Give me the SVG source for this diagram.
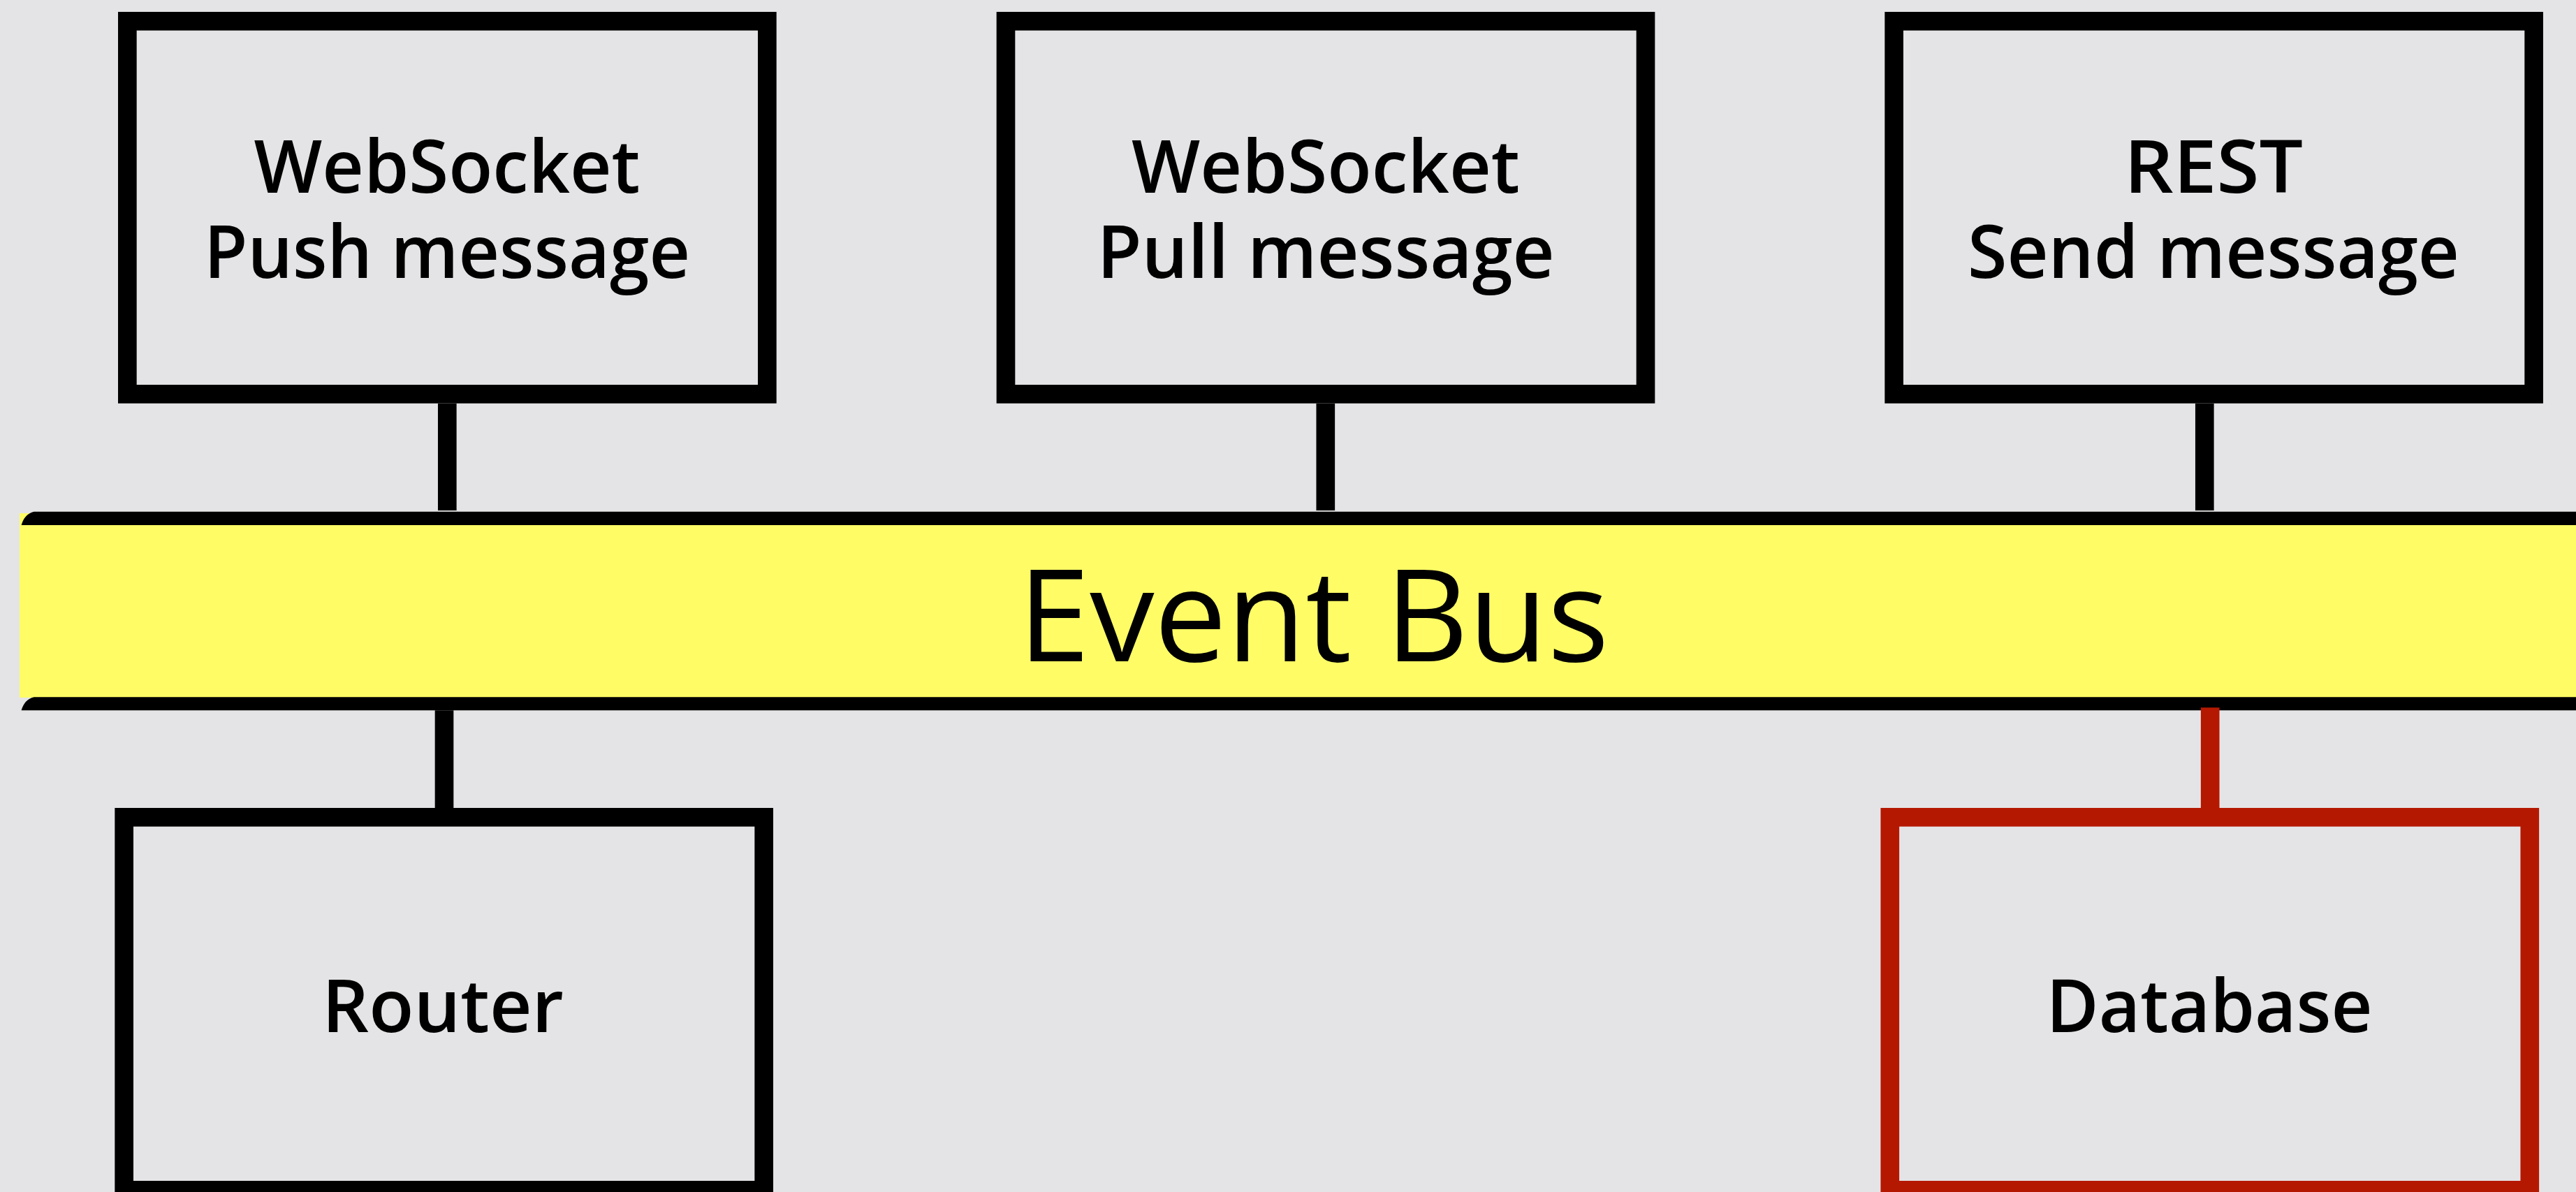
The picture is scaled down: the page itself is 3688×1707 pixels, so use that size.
<svg xmlns="http://www.w3.org/2000/svg" width="3688" height="1707" viewBox="0 0 3688 1707">
  <style>
    .box { fill: none; stroke: #000000; stroke-width: 26.67; }
    .box.db { stroke: #b51800; }
    .lbl { font-family: "Open Sans", "Noto Sans", "DejaVu Sans", sans-serif; font-size: 105px; font-weight: 600; fill: #000000; text-anchor: middle; }
    .bus-lbl { font-family: "Open Sans", "Noto Sans", "DejaVu Sans", sans-serif; font-size: 184px; fill: #000000; }
    .link { stroke: #000000; stroke-width: 26.67; fill: none; }
    .link.db { stroke: #b51800; }
  </style>

  <!-- background -->
  <rect x="0" y="0" width="3688" height="1707" fill="#e4e4e6"/>

  <!-- event bus: yellow band with black top and bottom rails -->
  <g id="event-bus">
    <rect x="28" y="735" width="3660" height="264" fill="#fffc66"/>
    <path d="M30.6,752 Q35,736 48.6,732.7 L3688,732.7 L3688,752 Z" fill="#000000"/>
    <path d="M30.6,1017.3 Q35,1001.6 48.6,998.3 L3688,998.3 L3688,1017.3 Z" fill="#000000"/>
    <text class="bus-lbl" x="1457.6" y="947.3" textLength="846" lengthAdjust="spacingAndGlyphs">Event Bus</text>
  </g>

  <!-- connectors between the services and the bus -->
  <g id="connectors">
    <line class="link" x1="640.3" y1="577.7" x2="640.3" y2="731"/>
    <line class="link" x1="1897.8" y1="577.7" x2="1897.8" y2="731"/>
    <line class="link" x1="3156.3" y1="577.7" x2="3156.3" y2="731"/>
    <line class="link" x1="636" y1="1017.3" x2="636" y2="1157"/>
    <line class="link db" x1="3164.2" y1="1013.3" x2="3164.2" y2="1157"/>
  </g>

  <g id="ws-push">
    <rect class="box" x="182.33" y="30.33" width="916" height="534"/>
    <text class="lbl" x="640" y="275.5" textLength="553" lengthAdjust="spacingAndGlyphs">WebSocket</text>
    <text class="lbl" x="640" y="398" textLength="696" lengthAdjust="spacingAndGlyphs">Push message</text>
  </g>

  <g id="ws-pull">
    <rect class="box" x="1440" y="30.33" width="916" height="534"/>
    <text class="lbl" x="1898" y="275.5" textLength="556" lengthAdjust="spacingAndGlyphs">WebSocket</text>
    <text class="lbl" x="1898" y="398" textLength="655" lengthAdjust="spacingAndGlyphs">Pull message</text>
  </g>

  <g id="rest-send">
    <rect class="box" x="2711.67" y="30.33" width="916" height="534"/>
    <text class="lbl" x="3169" y="275.5" textLength="256" lengthAdjust="spacingAndGlyphs">REST</text>
    <text class="lbl" x="3169" y="398" textLength="704" lengthAdjust="spacingAndGlyphs">Send message</text>
  </g>

  <g id="router">
    <rect class="box" x="177.67" y="1170.33" width="916" height="534"/>
    <text class="lbl" x="634" y="1478" textLength="346" lengthAdjust="spacingAndGlyphs">Router</text>
  </g>

  <g id="database">
    <rect class="box db" x="2705.8" y="1170.33" width="916" height="534"/>
    <text class="lbl" x="3163" y="1478" textLength="467" lengthAdjust="spacingAndGlyphs">Database</text>
  </g>
</svg>
